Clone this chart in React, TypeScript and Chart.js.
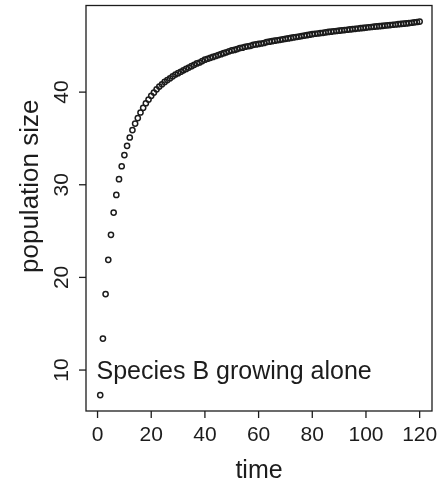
import React, { useEffect, useRef } from "react";
import { Chart, registerables } from "chart.js";

Chart.register(...registerables);

// time steps 1..120
const time: number[] = [
  1, 2, 3, 4, 5, 6, 7, 8, 9, 10, 11, 12, 13, 14, 15, 16, 17, 18, 19, 20,
  21, 22, 23, 24, 25, 26, 27, 28, 29, 30, 31, 32, 33, 34, 35, 36, 37, 38, 39, 40,
  41, 42, 43, 44, 45, 46, 47, 48, 49, 50, 51, 52, 53, 54, 55, 56, 57, 58, 59, 60,
  61, 62, 63, 64, 65, 66, 67, 68, 69, 70, 71, 72, 73, 74, 75, 76, 77, 78, 79, 80,
  81, 82, 83, 84, 85, 86, 87, 88, 89, 90, 91, 92, 93, 94, 95, 96, 97, 98, 99, 100,
  101, 102, 103, 104, 105, 106, 107, 108, 109, 110, 111, 112, 113, 114, 115, 116, 117, 118, 119, 120,
];

// population size
const population: number[] = [
  7.3, 13.4, 18.2, 21.9, 24.6, 27.0, 28.9, 30.6, 32.0, 33.2,
  34.2, 35.1, 35.9, 36.6, 37.2, 37.8, 38.3, 38.8, 39.2, 39.6,
  39.95, 40.3, 40.6, 40.85, 41.1, 41.3, 41.5, 41.7, 41.9, 42.05,
  42.2, 42.35, 42.5, 42.65, 42.8, 42.95, 43.1, 43.2, 43.35, 43.5,
  43.6, 43.7, 43.8, 43.9, 44.0, 44.1, 44.2, 44.3, 44.4, 44.5,
  44.55, 44.65, 44.75, 44.8, 44.9, 44.95, 45.0, 45.1, 45.15, 45.2,
  45.25, 45.3, 45.4, 45.45, 45.5, 45.55, 45.6, 45.65, 45.7, 45.75,
  45.8, 45.85, 45.9, 45.95, 46.0, 46.05, 46.1, 46.15, 46.2, 46.25,
  46.3, 46.33, 46.37, 46.4, 46.45, 46.5, 46.53, 46.57, 46.6, 46.63,
  46.67, 46.7, 46.73, 46.77, 46.8, 46.83, 46.87, 46.9, 46.93, 46.97,
  47.0, 47.03, 47.06, 47.09, 47.12, 47.15, 47.18, 47.21, 47.24, 47.27,
  47.3, 47.33, 47.36, 47.39, 47.42, 47.45, 47.49, 47.53, 47.57, 47.62,
];

const xTicks: number[] = [0, 20, 40, 60, 80, 100, 120];
const yTicks: number[] = [10, 20, 30, 40];
const xLabel = "time";
const yLabel = "population size";
const annotation = "Species B growing alone";
const annotationX = 0;
const annotationY = 10;

const FONT = '"Liberation Sans", Arial, sans-serif';
const INK = "#1c1c1c";

const axesPlugin = {
  id: "rAxes",
  afterDraw(chart: any) {
    const { ctx, chartArea } = chart;
    const xs = chart.scales.x;
    const ys = chart.scales.y;
    const { left, right, top, bottom } = chartArea;
    ctx.save();
    ctx.strokeStyle = INK;
    ctx.fillStyle = INK;
    ctx.lineWidth = 1.3;
    // box
    ctx.strokeRect(left, top, right - left, bottom - top);

    // x ticks
    ctx.font = `21px ${FONT}`;
    ctx.textAlign = "center";
    ctx.textBaseline = "alphabetic";
    xTicks.forEach((v) => {
      const px = xs.getPixelForValue(v);
      ctx.beginPath();
      ctx.moveTo(px, bottom);
      ctx.lineTo(px, bottom + 7);
      ctx.stroke();
      ctx.fillText(String(v), px, bottom + 30);
    });

    // y ticks
    yTicks.forEach((v) => {
      const py = ys.getPixelForValue(v);
      ctx.beginPath();
      ctx.moveTo(left, py);
      ctx.lineTo(left - 7, py);
      ctx.stroke();
      ctx.save();
      ctx.translate(left - 18, py);
      ctx.rotate(-Math.PI / 2);
      ctx.textAlign = "center";
      ctx.fillText(String(v), 0, 0);
      ctx.restore();
    });

    // axis titles
    ctx.font = `25px ${FONT}`;
    ctx.textAlign = "center";
    ctx.fillText(xLabel, (left + right) / 2, bottom + 67);
    ctx.save();
    ctx.translate(left - 48, (top + bottom) / 2 - 22);
    ctx.rotate(-Math.PI / 2);
    ctx.font = `26px ${FONT}`;
    ctx.fillText(yLabel, 0, 0);
    ctx.restore();

    // annotation
    ctx.font = `25px ${FONT}`;
    ctx.textAlign = "left";
    ctx.fillText(annotation, xs.getPixelForValue(annotationX) - 1, ys.getPixelForValue(annotationY) + 9);
    ctx.restore();
  },
};

export default function App() {
  const ref = useRef<HTMLCanvasElement | null>(null);
  useEffect(() => {
    if (!ref.current) return;
    const chart = new Chart(ref.current, {
      type: "scatter",
      data: {
        datasets: [
          {
            data: time.map((t, i) => ({ x: t, y: population[i] })),
            pointStyle: "circle",
            pointRadius: 2.6,
            pointBorderWidth: 1.5,
            borderColor: INK,
            backgroundColor: "rgba(0,0,0,0)",
            showLine: false,
          },
        ],
      },
      options: {
        responsive: false,
        animation: false,
        events: [],
        layout: { padding: { left: 0, right: 7, top: 5, bottom: 0 } },
        plugins: { legend: { display: false }, tooltip: { enabled: false } },
        scales: {
          x: {
            type: "linear",
            min: -4.3,
            max: 124.6,
            ticks: { display: false },
            grid: { display: false },
            border: { display: false },
            afterFit: (s: any) => {
              s.height = 73;
            },
          },
          y: {
            type: "linear",
            min: 5.58,
            max: 49.35,
            ticks: { display: false },
            grid: { display: false },
            border: { display: false },
            afterFit: (s: any) => {
              s.width = 86;
            },
          },
        },
      },
      plugins: [axesPlugin],
    } as any);
    return () => chart.destroy();
  }, []);
  return (
    <div style={{ position: "fixed", left: 0, top: 0, width: 439, height: 484, background: "#fff" }}>
      <canvas ref={ref} width={439} height={484} style={{ display: "block" }} />
    </div>
  );
}
